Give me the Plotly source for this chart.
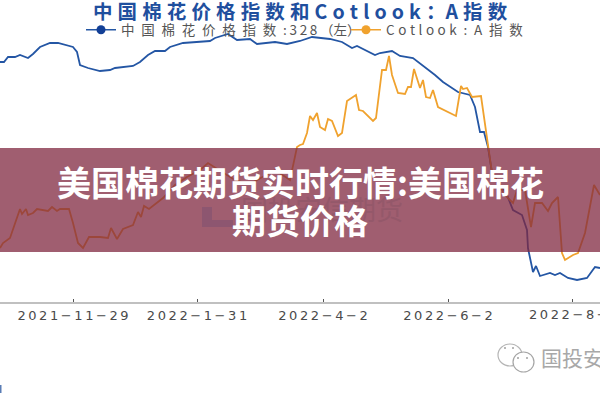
import plotly.graph_objects as go

# Trading sessions counted from the start of the sample
cn_session = [0, 2, 4, 7.5, 10, 14, 16.5, 20, 25, 29, 36.5, 38.5, 40, 44, 50, 55, 57.5, 66.5, 70, 74, 77.5, 82.5, 85, 91.5,
              105, 107.5, 114, 118.5, 125, 128.5, 137.5, 143.5, 150, 156, 165, 171, 176, 178.5, 187.5, 190, 196, 200,
              206.5, 212.5, 217.5, 221.5, 225, 229, 235, 237.5, 240, 242, 244, 246, 253.5, 256.5, 261, 263.5, 264, 266,
              266.5, 268, 270, 275, 277.5, 280, 284, 288.5, 293.5, 297.5, 300]
cn_index = [22264, 22264, 22404, 22404, 22460, 22376, 22488, 22684, 22796, 22796, 22684, 22544, 22180, 22096, 22012, 22040,
            22096, 22152, 22264, 22460, 22572, 22572, 22684, 22796, 22852, 22936, 23048, 22880, 22908, 22768, 22824, 22768,
            22852, 22964, 22908, 22824, 22656, 22712, 22460, 22516, 22572, 22432, 22376, 22124, 21900, 21704, 21564, 21424,
            21340, 21004, 20304, 20304, 19884, 19156, 18540, 18120, 17980, 17560, 17048, 16524, 16384, 16552, 16272, 16356,
            16300, 16356, 16216, 16160, 16216, 16524, 16496]

a_session = [0, 1.5, 5, 7.5, 10, 11, 13, 14, 16.5, 18.5, 24, 26, 28.5, 30, 34.5, 36.5, 39, 41.5, 44.5, 47.5, 50, 54, 55.5, 58.5,
             61.5, 66.5, 69, 70.5, 72, 74.5, 81.5, 87.5, 93.5, 100, 104, 111, 117.5, 125, 131, 137.5, 145, 148.5, 150, 151.5,
             153.5, 155, 156.5, 158.5, 160, 162.5, 164, 166, 169, 171, 173.5, 178, 179.5, 181.5, 186.5, 188, 191, 193, 194.5,
             196, 199, 202.5, 204, 205.5, 207, 210, 211.5, 213, 215, 216.5, 219, 228, 230.5, 231.5, 233.5, 236, 240.5, 244,
             246, 252.5, 256.5, 258.5, 262.5, 265.5, 267.5, 271, 274, 276, 279, 281, 282.5, 286.5, 289, 292.5, 297, 300]
a_index = [115.6, 117.1, 118.6, 123.1, 127.3, 125.8, 127.3, 125.5, 126.1, 127.3, 126.7, 127.9, 126.7, 127.3, 127.3, 123.1,
           117.1, 115.6, 118.9, 118.9, 118.9, 118.6, 121.6, 118.3, 121.3, 122.5, 126.4, 124.9, 128.2, 127.3, 130.6, 134.5,
           136.9, 139.0, 141.1, 138.4, 136.0, 134.8, 136.9, 139.0, 136.0, 145.9, 146.5, 146.8, 150.1, 155.2, 154.0, 156.1,
           151.9, 151.0, 154.3, 153.7, 149.2, 150.1, 159.7, 161.5, 157.0, 156.7, 153.7, 154.6, 169.0, 169.0, 173.2, 167.5,
           162.1, 161.8, 163.9, 163.9, 169.3, 163.6, 166.0, 160.9, 160.6, 163.0, 157.9, 155.2, 164.2, 163.3, 163.6, 160.9,
           161.2, 147.1, 138.1, 131.5, 129.1, 133.0, 133.0, 121.9, 129.1, 129.1, 126.7, 129.1, 130.9, 114.1, 112.0, 113.5,
           114.1, 120.1, 134.5, 131.5]

tick_sessions = [36.5, 98.5, 161.5, 224, 286]
tick_labels = ["2021-11-29", "2022-1-31", "2022-4-2", "2022-6-2", "2022-8-2"]

BLUE = "#2456a4"
ORANGE = "#f0a22e"
HAIR = "\u200a"
THIN = "\u2009"
EN = "\u2002"
CJK = "Noto Sans CJK SC"
W, H = 600, 400


def spaced(label):
    """Open up a date label and lengthen its dashes."""
    return (HAIR + HAIR).join(label.replace("-", "\u2212"))


def px(x):
    return x / W


def py(y):
    return 1 - y / H


fig = go.Figure()

fig.add_trace(go.Scatter(x=cn_session, y=cn_index, mode="lines", yaxis="y",
                         line=dict(color=BLUE, width=1.8), showlegend=False))
fig.add_trace(go.Scatter(x=a_session, y=a_index, mode="lines", yaxis="y2",
                         line=dict(color=ORANGE, width=1.8), showlegend=False))

# Empty traces carry the legend keys with their dots
fig.add_trace(go.Scatter(x=[None], y=[None], mode="lines+markers", yaxis="y", legend="legend",
                         name=EN.join("中国棉花价格指数") + EN + ":" + THIN + THIN.join("328") + THIN + "（左）",
                         line=dict(color=BLUE, width=1.5), marker=dict(color="#123f96", size=9)))
fig.add_trace(go.Scatter(x=[None], y=[None], mode="lines+markers", yaxis="y2", legend="legend2",
                         name=(THIN + HAIR).join("Cotlook") + EN + ":" + EN + "A" + EN + "指" + EN + "数",
                         line=dict(color=ORANGE, width=1.5), marker=dict(color=ORANGE, size=9)))

TITLE_GAP = THIN + HAIR
annotations = [
    dict(text="<b>" + TITLE_GAP.join("中国棉花价格指数和") + TITLE_GAP + TITLE_GAP.join("Cotlook") + TITLE_GAP + "："
              + "A" + TITLE_GAP + TITLE_GAP.join("指数") + "</b>",
         x=300, y=11, font=dict(family=CJK, size=19.5, color="#1f4f9e")),
    dict(text="国投安信期货", x=322, y=208, font=dict(family=CJK, size=27, color="#94586a")),
    dict(text="<b>美国棉花期货实时行情:美国棉花</b>", x=300, y=181,
         font=dict(family=CJK, size=34, color="#ffffff")),
    dict(text="<b>期货价格</b>", x=300, y=219, font=dict(family=CJK, size=34, color="#ffffff")),
    dict(text="国投安信期货", x=540, y=357, xanchor="left", font=dict(family=CJK, size=21, color="#a8a8a8")),
    # The closing date runs off the right edge, so it is set apart from the axis labels
    dict(text=spaced(tick_labels[-1]), x=528, y=314, xanchor="left",
         font=dict(family="DejaVu Sans", size=13, color="#4a4a4a")),
]
for note in annotations:
    note.update(xref="paper", yref="paper", showarrow=False, x=px(note["x"]), y=py(note["y"]))
    note.setdefault("xanchor", "center")
    note["yanchor"] = "middle"
    note["borderpad"] = 0


def box(x0, x1, y0, y1, color):
    return dict(type="rect", xref="paper", yref="paper", x0=px(x0), x1=px(x1), y0=py(y1), y1=py(y0),
                fillcolor=color, line_width=0, layer="above")


def bubble(x0, x1, y0, y1, color):
    return dict(type="circle", xref="paper", yref="paper", x0=px(x0), x1=px(x1), y0=py(y1), y1=py(y0),
                line=dict(color=color, width=1.2), fillcolor="#ffffff", layer="above")


def eye(x, y):
    return dict(type="circle", xref="paper", yref="paper", x0=px(x - 1), x1=px(x + 1), y0=py(y + 1), y1=py(y - 1),
                fillcolor="#a0a0a0", line_width=0, layer="above")


shapes = [
    # Caption band across the chart
    box(0, 600, 148, 252, "rgba(128,40,64,0.75)"),
    # Faint logo under the band
    box(202, 212, 207, 227, "#8d5670"),
    box(202, 233, 220, 227, "#8d5670"),
    # Chat bubbles beside the account name
    bubble(498, 522, 344, 366, "#b5b5b5"),
    bubble(513, 534, 352, 372, "#a5a5a5"),
    eye(505, 348), eye(513, 348), eye(518, 358), eye(527, 358),
    # Sliver of a mark at the lower left edge
    box(0, 1.5, 385, 393, "#5a7db5"),
]

legend_common = dict(orientation="h", xanchor="left", yanchor="middle", itemwidth=30,
                     font=dict(family=CJK, size=13.5, color="#555555"), bgcolor="rgba(0,0,0,0)")

fig.update_layout(
    width=W, height=H, margin=dict(l=0, r=0, t=0, b=0),
    paper_bgcolor="#ffffff", plot_bgcolor="rgba(0,0,0,0)",
    annotations=annotations, shapes=shapes,
    legend=dict(x=px(81), y=py(30), **legend_common),
    legend2=dict(x=px(346), y=py(30), **legend_common),
    xaxis=dict(range=[0, 300], tickmode="array", tickvals=tick_sessions,
               ticktext=[spaced(t) for t in tick_labels[:-1]] + [""], ticks="inside", ticklen=3,
               tickcolor="#555555", tickwidth=1, showgrid=False, zeroline=False, showline=True,
               linecolor="#c0c0c0", linewidth=2,
               tickfont=dict(family="DejaVu Sans", size=13, color="#4a4a4a"), anchor="y", ticklabelstandoff=0),
    yaxis=dict(domain=[py(302), 1], range=[15544, 24000], visible=False),
    yaxis2=dict(domain=[py(302), 1], range=[99.4, 190], overlaying="y", visible=False),
)

fig.write_html("out.html")
